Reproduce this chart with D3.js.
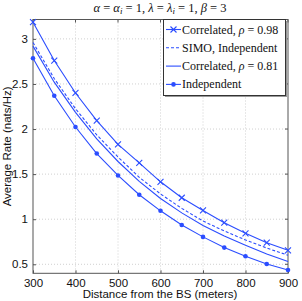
<!DOCTYPE html>
<html><head><meta charset="utf-8">
<script src="https://cdn.jsdelivr.net/npm/d3@7"></script>
<style>body{margin:0;background:#fff}svg{display:block}</style>
</head><body>
<script>
const distances = [300,350,400,450,500,550,600,650,700,750,800,850,900];
const corr098 = [3.185,2.76,2.40,2.093,1.83,1.625,1.415,1.238,1.097,0.961,0.843,0.74,0.655];
const simoIndep = [2.96,2.56,2.225,1.935,1.69,1.465,1.28,1.12,0.98,0.87,0.77,0.68,0.60];
const corr081 = [2.92,2.52,2.185,1.89,1.64,1.42,1.23,1.07,0.93,0.815,0.71,0.615,0.53];
const independent = [2.786,2.37,2.023,1.728,1.485,1.271,1.093,0.935,0.804,0.685,0.589,0.503,0.437];
const xTicks = [300,400,500,600,700,800,900];
const yTicks = [0.5,1,1.5,2,2.5,3];
const seriesNames = ["Correlated, ρ = 0.98","SIMO, Independent","Correlated, ρ = 0.81","Independent"];

const W=302,H=301;
const blue="#2b4dff";
const svg=d3.select("body").append("svg").attr("width",W).attr("height",H);
const x=d3.scaleLinear().domain([300,900]).range([33,288]);
const y=d3.scaleLinear().domain([0.4,3.215]).range([273.3,19.5]);

// grid
const g=svg.append("g");
g.selectAll(".gx").data(xTicks.slice(1,-1)).enter().append("line")
 .attr("x1",d=>x(d)).attr("x2",d=>x(d)).attr("y1",y.range()[1]).attr("y2",y.range()[0])
 .attr("stroke","#d0d0d0").attr("stroke-dasharray","1,2").attr("stroke-width",1);
g.selectAll(".gy").data(yTicks).enter().append("line")
 .attr("y1",d=>y(d)).attr("y2",d=>y(d)).attr("x1",x.range()[0]).attr("x2",x.range()[1])
 .attr("stroke","#d0d0d0").attr("stroke-dasharray","1,2").attr("stroke-width",1);

// axes
const xAxis=d3.axisBottom(x).tickValues(xTicks).tickSizeInner(-3).tickSizeOuter(0).tickPadding(6);
const yAxis=d3.axisLeft(y).tickValues(yTicks).tickSizeInner(-3).tickSizeOuter(0).tickPadding(5).tickFormat(d3.format("~g"));
const ax=svg.append("g").attr("transform",`translate(0,${y.range()[0]})`).call(xAxis);
const ay=svg.append("g").attr("transform",`translate(${x.range()[0]},0)`).call(yAxis);
[ax,ay].forEach(a=>{a.select(".domain").remove();
 a.selectAll("line").attr("stroke","#555");
 a.selectAll("text").attr("font-family","Liberation Sans, Arial, sans-serif").attr("font-size","11.5px").attr("fill","#111");});
// top/right ticks
svg.selectAll(".tt").data(xTicks).enter().append("line").attr("x1",d=>x(d)).attr("x2",d=>x(d))
 .attr("y1",y.range()[1]).attr("y2",y.range()[1]+3).attr("stroke","#555");
svg.selectAll(".rt").data(yTicks).enter().append("line").attr("y1",d=>y(d)).attr("y2",d=>y(d))
 .attr("x1",x.range()[1]).attr("x2",x.range()[1]-3).attr("stroke","#555");
// frame
svg.append("rect").attr("x",x.range()[0]).attr("y",y.range()[1]).attr("width",x.range()[1]-x.range()[0])
 .attr("height",y.range()[0]-y.range()[1]).attr("fill","none").attr("stroke","#555").attr("stroke-width",1);

// lines
const line=d3.line().x((d,i)=>x(distances[i])).y(d=>y(d));
const series=[
 {v:corr098,dash:null,marker:"x"},
 {v:simoIndep,dash:"3,2",marker:null},
 {v:corr081,dash:null,marker:null},
 {v:independent,dash:null,marker:"o"}];
series.forEach(s=>{
 svg.append("path").attr("d",line(s.v)).attr("fill","none").attr("stroke",blue).attr("stroke-width",1.1)
  .attr("stroke-dasharray",s.dash);
 if(s.marker==="x"){
  svg.selectAll(null).data(s.v).enter().append("path")
   .attr("d",(d,i)=>{const cx=x(distances[i]),cy=y(d),r=3;return `M${cx-r},${cy-r}L${cx+r},${cy+r}M${cx-r},${cy+r}L${cx+r},${cy-r}`;})
   .attr("stroke",blue).attr("stroke-width",1.1);
 } else if(s.marker==="o"){
  svg.selectAll(null).data(s.v).enter().append("circle")
   .attr("cx",(d,i)=>x(distances[i])).attr("cy",d=>y(d)).attr("r",2.3).attr("fill",blue);
 }
});

// legend
const lg=svg.append("g");
const lx0=163.5,ly0=19.5,lw=122,lh=76;
lg.append("rect").attr("x",lx0+1.5).attr("y",ly0+1.5).attr("width",lw).attr("height",lh).attr("fill","#999");
lg.append("rect").attr("x",lx0).attr("y",ly0).attr("width",lw).attr("height",lh).attr("fill","#fff").attr("stroke","#333").attr("stroke-width",1);
series.forEach((s,i)=>{
 const cy=ly0+10+i*18.3;
 lg.append("line").attr("x1",lx0+2.5).attr("x2",lx0+17.5).attr("y1",cy).attr("y2",cy)
  .attr("stroke",blue).attr("stroke-width",1.1).attr("stroke-dasharray",s.dash);
 const cx=lx0+10;
 if(s.marker==="x") lg.append("path").attr("d",`M${cx-3},${cy-3}L${cx+3},${cy+3}M${cx-3},${cy+3}L${cx+3},${cy-3}`).attr("stroke",blue).attr("stroke-width",1.1);
 if(s.marker==="o") lg.append("circle").attr("cx",cx).attr("cy",cy).attr("r",2.3).attr("fill",blue);
 const t=lg.append("text").attr("x",lx0+18.5).attr("y",cy+4).attr("font-family","Liberation Serif, serif").attr("font-size","12px").attr("fill","#111");
 const name=seriesNames[i];
 if(name.includes("ρ")){
  const parts=name.split("ρ");
  t.append("tspan").text(parts[0]);
  t.append("tspan").attr("font-style","italic").text("ρ");
  t.append("tspan").text(parts[1]);
 } else t.text(name);
});

// title
const tt=svg.append("text").attr("x",160).attr("y",12).attr("text-anchor","middle")
 .attr("font-family","Liberation Serif, serif").attr("font-size","12.5px").attr("fill","#111");
const tp=[["α",1],[" = ",0],["α",1],["i",2],[" = 1, ",0],["λ",1],[" = ",0],["λ",1],["i",2],[" = 1, ",0],["β",1],[" = 3",0]];
tp.forEach(([s,k],j)=>{
 const sp=tt.append("tspan").text(s);
 if(k>=1) sp.attr("font-style","italic");
 if(k===2) sp.attr("font-size","9px").attr("dy","2");
 if(j>0 && tp[j-1][1]===2) sp.attr("dy","-2");
});

// axis labels
svg.append("text").attr("x",160).attr("y",298).attr("text-anchor","middle")
 .attr("font-family","Liberation Sans, Arial, sans-serif").attr("font-size","11.5px").attr("fill","#111")
 .text("Distance from the BS (meters)");
svg.append("text").attr("transform",`translate(11,${(y.range()[0]+y.range()[1])/2}) rotate(-90)`).attr("text-anchor","middle")
 .attr("font-family","Liberation Sans, Arial, sans-serif").attr("font-size","11.5px").attr("fill","#111")
 .text("Average Rate (nats/Hz)");
</script>
</body></html>
